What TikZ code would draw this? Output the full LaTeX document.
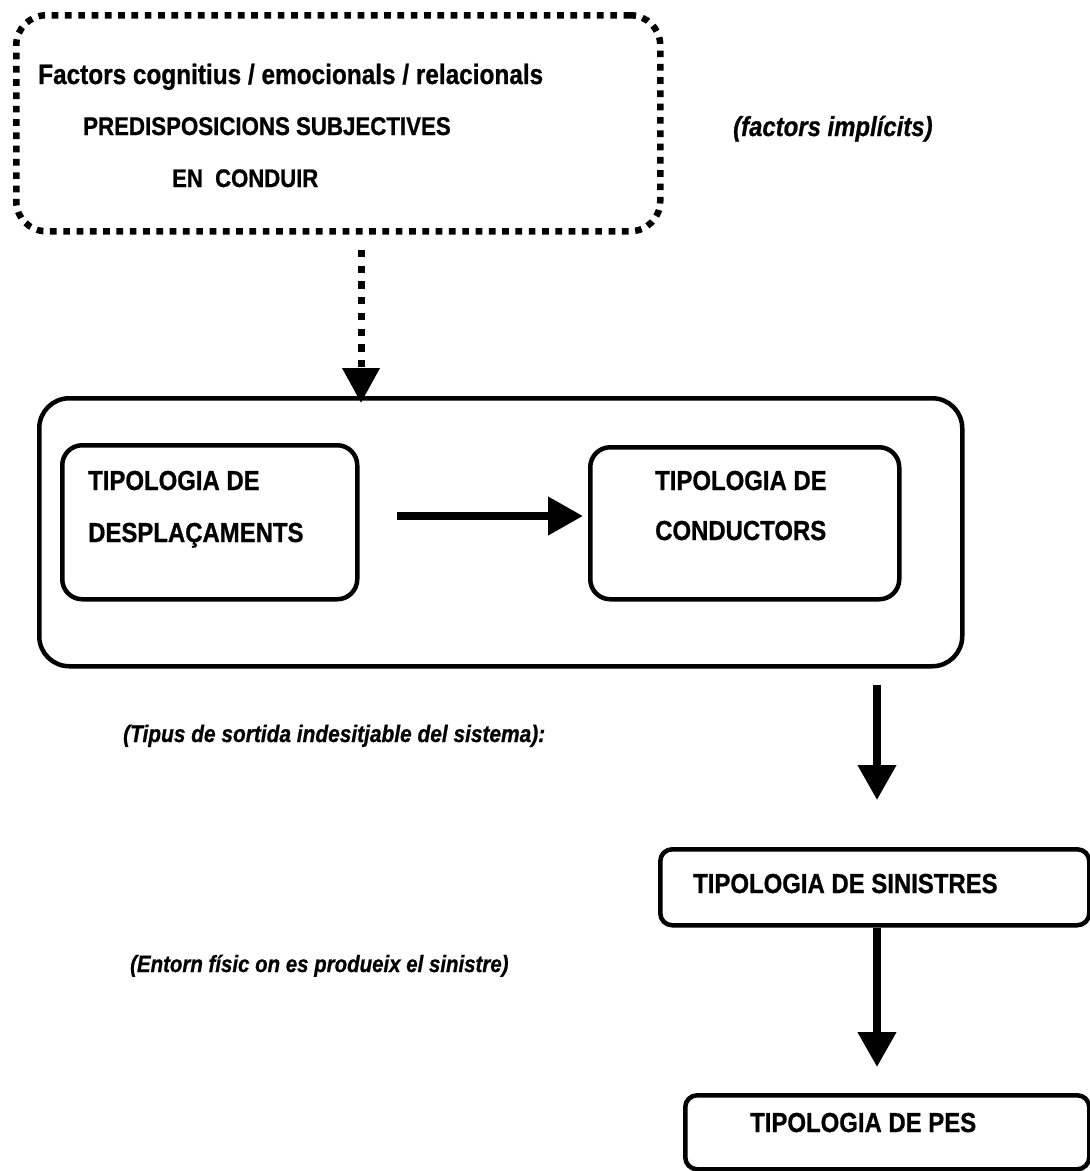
\documentclass[tikz,border=0pt]{standalone}
\usepackage{fontspec}
\setmainfont{Liberation Sans}[FakeStretch=0.87,BoldFeatures={FakeBold=0.8},BoldItalicFeatures={FakeBold=0.8}]
\usetikzlibrary{arrows.meta}
\begin{document}
\begin{tikzpicture}[x=1pt,y=-1pt,
  box/.style={draw,line width=4.5pt,rounded corners=#1,inner sep=0pt,anchor=north west},
  box/.default=20pt,
  dotbox/.style={draw,line width=6.5pt,dash pattern=on 6.7pt off 6.6pt,rounded corners=30pt,inner sep=0pt,anchor=north west},
  txt/.style={anchor=base west,inner sep=0pt,font=\bfseries\fontsize{#1}{#1}\selectfont},
  txt/.default=27.5,
  itxt/.style={anchor=base west,inner sep=0pt,font=\bfseries\itshape\fontsize{#1}{#1}\selectfont},
  itxt/.default=27.5,
  arr/.style={line width=7.5pt,-{Triangle[length=35pt,width=37pt]}},
  dotarr/.style={line width=7pt,dash pattern=on 7.3pt off 8.4pt,-{Triangle[length=35pt,width=36pt]}}]
\useasboundingbox (0,0) rectangle (1090,1171);

% boxes
\node[dotbox,minimum width=644pt,minimum height=216pt] (top) at (13,12) {};
\node[box=30pt,minimum width=923pt,minimum height=268pt] (big) at (37,396) {};
\node[box,minimum width=295pt,minimum height=154pt] (b1) at (60,443) {};
\node[box,minimum width=309pt,minimum height=152pt] (b2) at (588,445) {};
\node[box=12pt,minimum width=429pt,minimum height=76pt] (sin) at (658,847) {};
\node[box=12pt,minimum width=404pt,minimum height=74pt] (pes) at (683,1093) {};

% texts
\node[txt=28] (t1) at (38,84) {Factors cognitius / emocionals / relacionals};
\node[txt=25.6] (t2) at (83,135) {PREDISPOSICIONS SUBJECTIVES};
\node[txt=25.4] (t3) at (172,187) {EN\ \ CONDUIR};
\node[itxt] (t4) at (733,136) {(factors implícits)};
\node[txt] (t5) at (88,490) {TIPOLOGIA DE};
\node[txt] (t6) at (88,542) {DESPLAÇAMENTS};
\node[txt] (t7) at (655,490) {TIPOLOGIA DE};
\node[txt] (t8) at (655,540) {CONDUCTORS};
\node[txt] (t9) at (693,893) {TIPOLOGIA DE SINISTRES};
\node[txt] (t10) at (750,1132) {TIPOLOGIA DE PES};
\node[itxt=24] (t11) at (123,742) {(Tipus de sortida indesitjable del sistema):};
\node[itxt=23.5] (t12) at (130,972) {(Entorn físic on es produeix el sinistre)};

% connectors
\coordinate (d0) at (361,250);
\draw[dotarr,shorten >=-7pt] (d0) -- (d0 |- big.north);
\coordinate (h0) at (397,516);
\draw[arr,shorten >=5pt] (h0) -- (h0 -| b2.west);
\coordinate (v0) at (877,685);
\draw[arr,shorten >=47pt] (v0) -- (v0 |- sin.north);
\coordinate (v1) at (877,923);
\draw[arr,shorten >=26pt] (v1 |- sin.south) -- (v1 |- pes.north);
\end{tikzpicture}
\end{document}
